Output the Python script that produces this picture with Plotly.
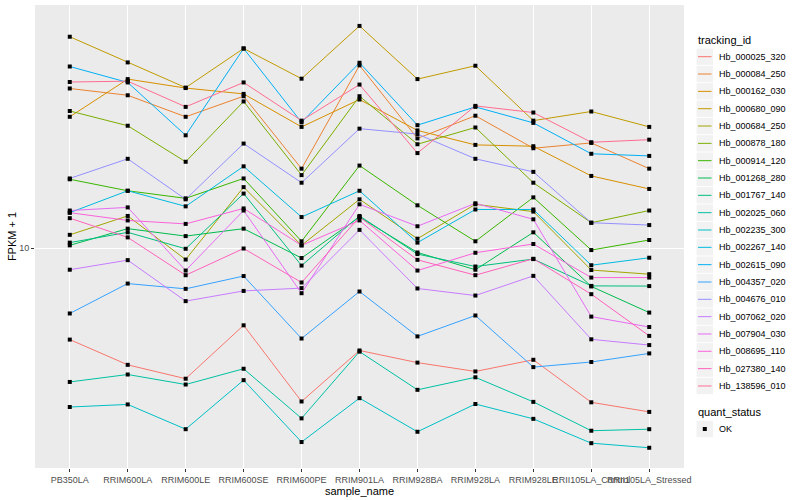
import plotly.graph_objects as go

samples = ["PB350LA", "RRIM600LA", "RRIM600LE", "RRIM600SE", "RRIM600PE", "RRIM901LA",
           "RRIM928BA", "RRIM928LA", "RRIM928LE", "RRII105LA_Control", "RRII105LA_Stressed"]

tracking_ids = ["Hb_000025_320", "Hb_000084_250", "Hb_000162_030", "Hb_000680_090", "Hb_000684_250",
                "Hb_000878_180", "Hb_000914_120", "Hb_001268_280", "Hb_001767_140", "Hb_002025_060",
                "Hb_002235_300", "Hb_002267_140", "Hb_002615_090", "Hb_004357_020", "Hb_004676_010",
                "Hb_007062_020", "Hb_007904_030", "Hb_008695_110", "Hb_027380_140", "Hb_138596_010"]

colors = ["#F8766D", "#EA8331", "#D89000", "#C09B00", "#A3A500", "#7CAE00", "#39B600", "#00BB4E",
          "#00BF7D", "#00C1A3", "#00BFC4", "#00BAE0", "#00B0F6", "#35A2FF", "#9590FF", "#C77CFF",
          "#E76BF3", "#FA62DB", "#FF62BC", "#FF6C91"]

quant_status = ["OK"]

# FPKM + 1 values per gene, in sample order
Hb_000025_320 = [5.18, 4.32, 3.91, 5.74, 3.32, 4.79, 4.39, 4.12, 4.48, 3.30, 3.08]
Hb_000084_250 = [31.5, 30.0, 25.7, 29.8, 17.7, 37.2, 22.0, 25.9, 20.5, 21.3, 17.7]
Hb_000162_030 = [25.7, 33.7, 31.6, 30.3, 23.9, 29.1, 23.3, 21.0, 20.8, 16.8, 15.3]
Hb_000680_090 = [45.7, 38.0, 31.7, 42.0, 33.8, 49.4, 33.7, 37.1, 25.0, 26.7, 23.9]
Hb_000684_250 = [11.0, 12.6, 9.21, 15.5, 10.2, 14.2, 10.7, 13.7, 13.0, 8.54, 8.29]
Hb_000878_180 = [26.8, 24.1, 18.6, 28.7, 16.9, 29.8, 21.1, 23.8, 16.0, 12.0, 13.1]
Hb_000914_120 = [16.4, 15.1, 14.3, 16.5, 10.5, 18.1, 13.6, 10.5, 14.4, 9.86, 10.6]
Hb_001268_280 = [10.2, 11.5, 10.9, 11.5, 9.31, 12.5, 9.69, 8.56, 11.2, 7.59, 6.29]
Hb_001767_140 = [10.4, 11.2, 9.95, 14.8, 8.82, 12.6, 9.58, 8.76, 9.24, 7.62, 7.61]
Hb_002025_060 = [3.82, 4.03, 3.75, 4.20, 2.94, 4.75, 3.61, 3.95, 3.31, 2.69, 2.72]
Hb_002235_300 = [3.19, 3.25, 2.72, 3.87, 2.48, 3.40, 2.67, 3.26, 2.93, 2.46, 2.38]
Hb_002267_140 = [12.9, 15.1, 13.5, 18.0, 12.5, 15.1, 10.4, 13.2, 13.2, 8.84, 9.33]
Hb_002615_090 = [36.9, 32.9, 22.5, 42.0, 24.7, 37.9, 24.2, 27.6, 24.6, 19.7, 19.4]
Hb_004357_020 = [6.25, 7.75, 7.46, 8.18, 5.22, 7.32, 5.30, 6.16, 4.25, 4.41, 4.69]
Hb_004676_010 = [16.5, 19.0, 14.2, 21.2, 16.0, 23.6, 22.7, 19.0, 17.3, 12.0, 11.8]
Hb_007062_020 = [8.56, 9.17, 6.83, 7.35, 7.50, 11.4, 7.48, 7.11, 8.19, 5.19, 4.98]
Hb_007904_030 = [13.1, 13.4, 8.51, 13.1, 7.23, 13.7, 11.7, 13.8, 12.3, 6.11, 5.67]
Hb_008695_110 = [12.9, 12.2, 11.9, 13.3, 10.2, 12.2, 8.51, 9.67, 10.3, 8.09, 8.09]
Hb_027380_140 = [12.4, 10.8, 8.23, 9.97, 7.81, 12.5, 9.19, 8.23, 9.26, 7.18, 5.32]
Hb_138596_010 = [33.0, 33.2, 27.6, 32.9, 25.0, 32.4, 19.8, 27.8, 26.5, 21.4, 21.8]

series = [Hb_000025_320, Hb_000084_250, Hb_000162_030, Hb_000680_090, Hb_000684_250,
          Hb_000878_180, Hb_000914_120, Hb_001268_280, Hb_001767_140, Hb_002025_060,
          Hb_002235_300, Hb_002267_140, Hb_002615_090, Hb_004357_020, Hb_004676_010,
          Hb_007062_020, Hb_007904_030, Hb_008695_110, Hb_027380_140, Hb_138596_010]

FONT = "Liberation Sans, Arial, sans-serif"
W, H = 800, 500
ML, MR, MT, MB = 35, 116, 5, 32
PW, PH = W - ML - MR, H - MT - MB


def px(x):  # pixel x -> paper x
    return (x - ML) / PW


def py(y):  # pixel y -> paper y
    return 1 - (y - MT) / PH


fig = go.Figure()
for name, col, vals in zip(tracking_ids, colors, series):
    fig.add_trace(go.Scatter(x=samples, y=vals, mode="lines", name=name,
                             line=dict(color=col, width=1), showlegend=False))

all_x, all_y = [], []
for vals in series:
    all_x += samples
    all_y += vals
fig.add_trace(go.Scatter(x=all_x, y=all_y, mode="markers", name=quant_status[0],
                         marker=dict(symbol="square", size=4, color="black"),
                         showlegend=False))

# ggplot-style legends (colour: tracking_id, shape: quant_status)
shapes, annotations = [], []
KX0, KX1, TX = 696.5, 713.0, 716.5
annotations.append(dict(text="tracking_id", x=px(696), y=py(40.5), xref="paper", yref="paper",
                        xanchor="left", yanchor="middle", showarrow=False,
                        font=dict(size=11, color="black", family=FONT)))
for i, (name, col) in enumerate(zip(tracking_ids, colors)):
    cy = 56.7 + i * 17.33
    shapes.append(dict(type="rect", xref="paper", yref="paper", x0=px(KX0), x1=px(KX1),
                       y0=py(cy - 8.2), y1=py(cy + 8.2), fillcolor="#F2F2F2",
                       line=dict(width=0), layer="above"))
    shapes.append(dict(type="line", xref="paper", yref="paper", x0=px(KX0 + 1.5), x1=px(KX1 - 1.5),
                       y0=py(cy), y1=py(cy), line=dict(color=col, width=1), layer="above"))
    annotations.append(dict(text=name, x=px(TX), y=py(cy), xref="paper", yref="paper",
                            xanchor="left", yanchor="middle", showarrow=False,
                            font=dict(size=9, color="black", family=FONT)))

annotations.append(dict(text="quant_status", x=px(696), y=py(412), xref="paper", yref="paper",
                        xanchor="left", yanchor="middle", showarrow=False,
                        font=dict(size=11, color="black", family=FONT)))
cy = 429
shapes.append(dict(type="rect", xref="paper", yref="paper", x0=px(KX0), x1=px(KX1),
                   y0=py(cy - 8.2), y1=py(cy + 8.2), fillcolor="#F2F2F2",
                   line=dict(width=0), layer="above"))
shapes.append(dict(type="rect", xref="paper", yref="paper", x0=px(702.8), x1=px(706.8),
                   y0=py(cy - 2), y1=py(cy + 2), fillcolor="black",
                   line=dict(width=0), layer="above"))
annotations.append(dict(text=quant_status[0], x=px(TX), y=py(cy), xref="paper", yref="paper",
                        xanchor="left", yanchor="middle", showarrow=False,
                        font=dict(size=9, color="black", family=FONT)))

fig.update_layout(
    width=W, height=H,
    margin=dict(l=ML, r=MR, t=MT, b=MB),
    paper_bgcolor="white", plot_bgcolor="#EBEBEB",
    font=dict(family=FONT, size=11, color="black"),
    showlegend=False,
    shapes=shapes, annotations=annotations,
)
fig.update_xaxes(type="category", range=[-0.6, 10.6], showgrid=True, gridcolor="white",
                 gridwidth=1, zeroline=False, showline=False, ticks="outside", ticklen=3,
                 tickcolor="#333333", tickangle=0, automargin=False,
                 tickfont=dict(family=FONT, size=9, color="#4D4D4D"),
                 title=dict(text="sample_name", font=dict(size=11, color="black"), standoff=0))
fig.update_yaxes(type="log", range=[0.3134, 1.759], tickvals=[10], ticktext=["10"],
                 showgrid=True, gridcolor="white", gridwidth=1, zeroline=False, showline=False,
                 ticks="outside", ticklen=3, tickcolor="#333333", automargin=False,
                 tickfont=dict(family=FONT, size=9, color="#4D4D4D"),
                 title=dict(text="FPKM + 1", font=dict(size=11, color="black"), standoff=0))

fig.write_html("out.html", config={"displayModeBar": False},
               post_script="document.body.style.margin='0';")
